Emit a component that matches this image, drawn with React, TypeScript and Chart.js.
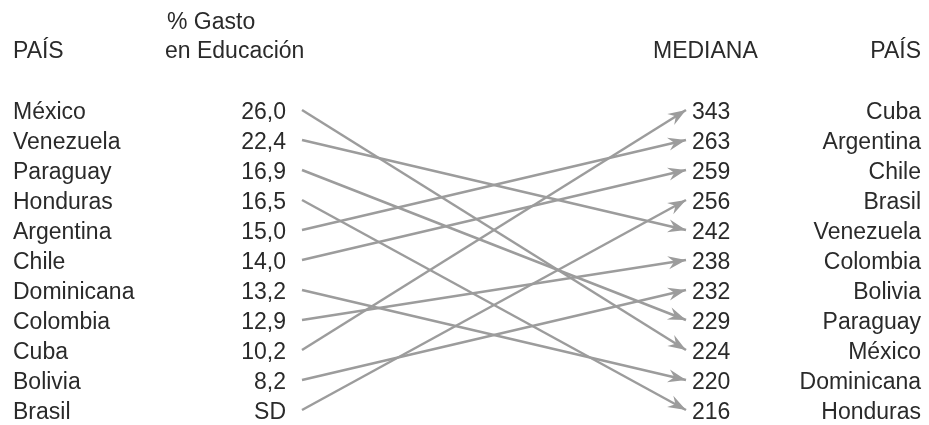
import React, { useEffect, useRef } from "react";
import { Chart, registerables } from "chart.js";

Chart.register(...registerables);

const leftCountries = ["México", "Venezuela", "Paraguay", "Honduras", "Argentina", "Chile", "Dominicana", "Colombia", "Cuba", "Bolivia", "Brasil"];
const leftValues = ["26,0", "22,4", "16,9", "16,5", "15,0", "14,0", "13,2", "12,9", "10,2", "8,2", "SD"];
const rightCountries = ["Cuba", "Argentina", "Chile", "Brasil", "Venezuela", "Colombia", "Bolivia", "Paraguay", "México", "Dominicana", "Honduras"];
const rightValues = ["343", "263", "259", "256", "242", "238", "232", "229", "224", "220", "216"];
const headerLeftCountry = "PAÍS";
const headerLeftValue = ["% Gasto", "en Educación"];
const headerRightValue = "MEDIANA";
const headerRightCountry = "PAÍS";

const FONT = '23px "Liberation Sans", Arial, sans-serif';
const TEXT = "#2a2a2a";
const LINE = "#9c9c9c";

const textPlugin = {
  id: "slopeText",
  afterDraw(chart: any) {
    const { ctx, chartArea, scales } = chart;
    const y = scales.y;
    const L = chartArea.left;
    const R = chartArea.right;
    ctx.save();
    ctx.font = FONT;
    ctx.fillStyle = TEXT;
    ctx.textBaseline = "alphabetic";
    const top = y.getPixelForValue(0);
    ctx.textAlign = "left";
    ctx.fillText(headerLeftCountry, L - 289, top - 52);
    ctx.fillText(headerLeftValue[0], L - 135, top - 81);
    ctx.fillText(headerLeftValue[1], L - 137, top - 52);
    ctx.fillText(headerRightValue, R - 33, top - 52);
    ctx.textAlign = "right";
    ctx.fillText(headerRightCountry, R + 235, top - 52);
    for (let i = 0; i < leftCountries.length; i++) {
      const py = y.getPixelForValue(i) + 9;
      ctx.textAlign = "left";
      ctx.fillText(leftCountries[i], L - 289, py);
      ctx.textAlign = "right";
      ctx.fillText(leftValues[i], L - 16, py);
      ctx.textAlign = "left";
      ctx.fillText(rightValues[i], R + 6, py);
      ctx.textAlign = "right";
      ctx.fillText(rightCountries[i], R + 235, py);
    }
    ctx.restore();
  },
};

const arrowPlugin = {
  id: "arrowHeads",
  afterDatasetsDraw(chart: any) {
    const { ctx } = chart;
    ctx.save();
    chart.data.datasets.forEach((_: any, di: number) => {
      const meta = chart.getDatasetMeta(di);
      const p0 = meta.data[0];
      const p1 = meta.data[1];
      const ang = Math.atan2(p1.y - p0.y, p1.x - p0.x);
      const len = 18;
      const half = 6.5;
      const notch = 12;
      const cos = Math.cos(ang);
      const sin = Math.sin(ang);
      const pt = (back: number, side: number) => [
        p1.x - back * cos - side * sin,
        p1.y - back * sin + side * cos,
      ];
      const a = pt(len, half);
      const b = pt(notch, 0);
      const c = pt(len, -half);
      ctx.beginPath();
      ctx.moveTo(p1.x, p1.y);
      ctx.lineTo(a[0], a[1]);
      ctx.lineTo(b[0], b[1]);
      ctx.lineTo(c[0], c[1]);
      ctx.closePath();
      ctx.fillStyle = LINE;
      ctx.fill();
    });
    ctx.restore();
  },
};

export default function App() {
  const ref = useRef<HTMLCanvasElement | null>(null);
  useEffect(() => {
    if (!ref.current) return;
    const datasets = leftCountries.map((c, i) => ({
      label: c,
      data: [
        { x: 0, y: i },
        { x: 1, y: rightCountries.indexOf(c) },
      ],
      showLine: true,
      borderColor: LINE,
      borderWidth: 2.5,
      pointRadius: 0,
      pointHoverRadius: 0,
      clip: false as any,
    }));
    const chart = new Chart(ref.current, {
      type: "scatter",
      data: { datasets },
      options: {
        animation: false,
        responsive: false,
        maintainAspectRatio: false,
        layout: { padding: { left: 302, right: 243, top: 110, bottom: 15 } },
        plugins: { legend: { display: false }, tooltip: { enabled: false } },
        scales: {
          x: { type: "linear", min: 0, max: 1, display: false },
          y: { type: "linear", min: 0, max: 10, reverse: true, display: false },
        },
        events: [],
      },
      plugins: [textPlugin, arrowPlugin],
    });
    return () => chart.destroy();
  }, []);
  return (
    <div style={{ position: "fixed", left: 0, top: 0, width: 929, height: 425, background: "#fff" }}>
      <canvas ref={ref} width={929} height={425} style={{ width: 929, height: 425 }} />
    </div>
  );
}
